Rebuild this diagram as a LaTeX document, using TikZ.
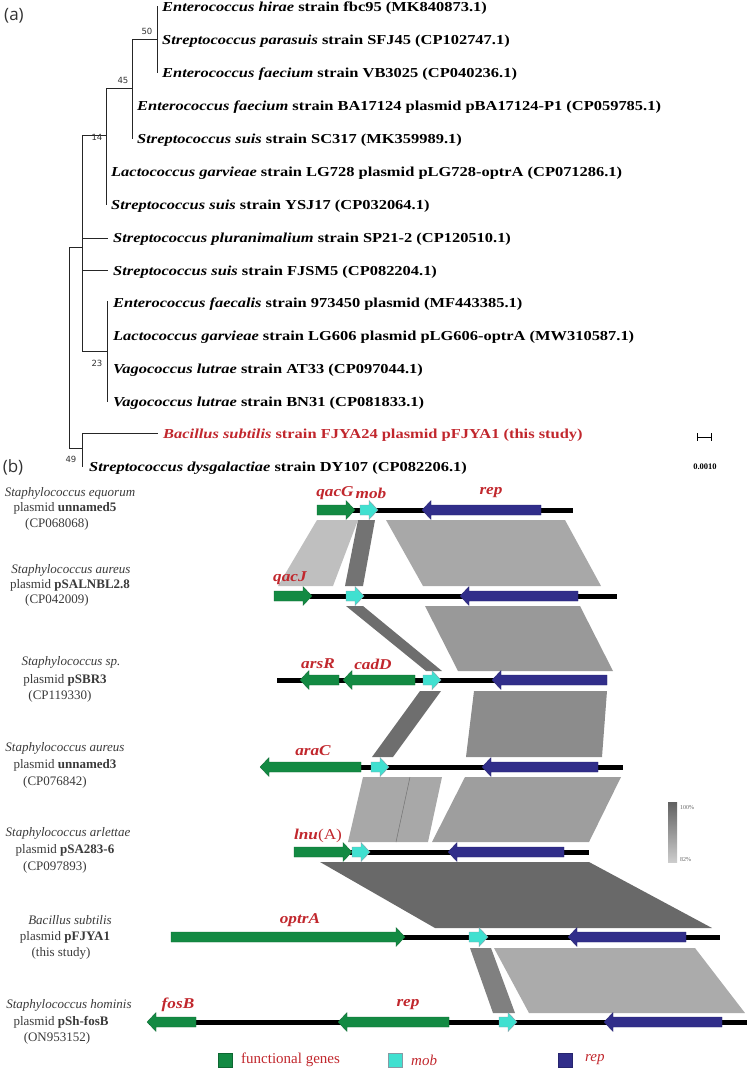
\documentclass[tikz,border=0pt]{standalone}
\usepackage{fontspec}
\usepackage{graphicx}
\setmainfont{Liberation Serif}
\newfontfamily\numfont{DejaVu Sans}
\newfontfamily\panfont{Open Sans}
\definecolor{gGreen}{HTML}{138A43}
\definecolor{gCyan}{HTML}{40E0D0}
\definecolor{gNavy}{HTML}{312E8A}
\definecolor{myRed}{HTML}{C1272D}
\definecolor{labGray}{HTML}{3A3A3A}
\newcommand\tlab[1]{\scalebox{1.2}[1]{\fontsize{13.7}{16}\selectfont\bfseries #1}}
\newcommand\glab[1]{\scalebox{1.15}[1]{\fontsize{15}{17}\selectfont\bfseries\itshape #1}}
\newcommand\geneR[4]{\fill[#4] (#1,#3-5) -- (#2-9,#3-5) -- (#2-9,#3-9.5) -- (#2,#3) -- (#2-9,#3+9.5) -- (#2-9,#3+5) -- (#1,#3+5) -- cycle;}
\newcommand\geneL[4]{\fill[#4] (#2,#3-5) -- (#1+9,#3-5) -- (#1+9,#3-9.5) -- (#1,#3) -- (#1+9,#3+9.5) -- (#1+9,#3+5) -- (#2,#3+5) -- cycle;}
\tikzset{
  tree/.style={draw=black!85, line width=0.9pt},
  tiplab/.style={anchor=west, inner sep=0pt},
  boot/.style={inner sep=0pt, font=\numfont\fontsize{8.5}{10}\selectfont, text=black!80},
  fgene/.style={fill=gGreen, draw=gGreen!75!black, line width=0.3pt},
  mgene/.style={fill=gCyan, draw=gray!80!cyan, line width=0.4pt},
  rgene/.style={fill=gNavy, draw=gNavy!80!black, line width=0.3pt},
  backbone/.style={draw=black, line width=5pt},
  genelab/.style={inner sep=0pt, text=myRed},
  plab/.style={inner sep=0pt, text=labGray, font=\fontsize{13}{15}\selectfont},
  legtext/.style={anchor=west, inner sep=0pt, text=myRed, font=\fontsize{15}{17}\selectfont},
}
\begin{document}
\begin{tikzpicture}[x=1pt,y=-1pt]
\useasboundingbox (0,0) rectangle (750,1082);
% ---------------- panel (a) -----------------
\node[inner sep=0pt, font=\panfont\fontsize{17}{20}\selectfont, text=black!80] (pa) at (14,16) {(a)};
% tree branches
\coordinate (nA) at (157,39);
\coordinate (nB) at (132,88);
\coordinate (nC) at (106,135);
\coordinate (nD) at (82,247);
\coordinate (nE) at (107,351);
\coordinate (nF) at (82,448);
\coordinate (root) at (69,247);
\draw[tree] (157,6) -- (157,73);
\draw[tree] (132,39) -- (nA);
\draw[tree] (132,39) -- (132,139);
\draw[tree] (106,88) -- (nB);
\draw[tree] (106,88) -- (106,205);
\draw[tree] (82,135) -- (nC);
\draw[tree] (82,135) -- (82,351);
\draw[tree] (82,238) -- (108,238);
\draw[tree] (82,270) -- (108,270);
\draw[tree] (82,351) -- (nE);
\draw[tree] (107,301) -- (107,402);
\draw[tree] (root) -- (nD);
\draw[tree] (root) -- (69,448) -- (nF);
\draw[tree] (82,433) -- (82,467);
\draw[tree] (82,433) -- (158,433);
% bootstrap values
\node[boot] (b50) at (147,31) {50};
\node[boot] (b45) at (123,80) {45};
\node[boot] (b14) at (97,137) {14};
\node[boot] (b23) at (97,363) {23};
\node[boot] (b49) at (71,459) {49};
% tip labels
\node[tiplab] (t1) at (162,8) {\tlab{\textit{Enterococcus hirae} strain fbc95 (MK840873.1)}};
\node[tiplab] (t2) at (162,41) {\tlab{\textit{Streptococcus parasuis} strain SFJ45 (CP102747.1)}};
\node[tiplab] (t3) at (162,74) {\tlab{\textit{Enterococcus faecium} strain VB3025 (CP040236.1)}};
\node[tiplab] (t4) at (137,107) {\tlab{\textit{Enterococcus faecium} strain BA17124 plasmid pBA17124-P1 (CP059785.1)}};
\node[tiplab] (t5) at (137,140) {\tlab{\textit{Streptococcus suis} strain SC317 (MK359989.1)}};
\node[tiplab] (t6) at (111,173) {\tlab{\textit{Lactococcus garvieae} strain LG728 plasmid pLG728-optrA (CP071286.1)}};
\node[tiplab] (t7) at (111,206) {\tlab{\textit{Streptococcus suis} strain YSJ17 (CP032064.1)}};
\node[tiplab] (t8) at (113,239) {\tlab{\textit{Streptococcus pluranimalium} strain SP21-2 (CP120510.1)}};
\node[tiplab] (t9) at (113,272) {\tlab{\textit{Streptococcus suis} strain FJSM5 (CP082204.1)}};
\node[tiplab] (t10) at (113,304) {\tlab{\textit{Enterococcus faecalis} strain 973450 plasmid (MF443385.1)}};
\node[tiplab] (t11) at (113,337) {\tlab{\textit{Lactococcus garvieae} strain LG606 plasmid pLG606-optrA (MW310587.1)}};
\node[tiplab] (t12) at (113,370) {\tlab{\textit{Vagococcus lutrae} strain AT33 (CP097044.1)}};
\node[tiplab] (t13) at (113,403) {\tlab{\textit{Vagococcus lutrae} strain BN31 (CP081833.1)}};
\node[tiplab, text=myRed] (t14) at (163,435) {\tlab{\textit{Bacillus subtilis} strain FJYA24 plasmid pFJYA1 (this study)}};
\node[tiplab] (t15) at (89,468) {\tlab{\textit{Streptococcus dysgalactiae} strain DY107 (CP082206.1)}};
% scale bar
\coordinate (sb1) at (697,437);
\coordinate (sb2) at (711,437);
\draw[line width=0.9pt] (sb1) -- (sb2);
\draw[line width=0.9pt] (697,433) -- (697,441);
\draw[line width=0.9pt] (711,433) -- (711,441);
\node[inner sep=0pt, font=\bfseries\fontsize{8.5}{10}\selectfont] (sbl) at (705,467) {0.0010};
% ---------------- panel (b) -----------------
\node[inner sep=0pt, font=\panfont\fontsize{17}{20}\selectfont, text=black!80] (pb) at (13,467) {(b)};
% similarity bands
\fill[black!25] (317,520) -- (358,520) -- (333,586) -- (278,586) -- cycle;
\fill[black!55] (358,520) -- (375,520) -- (363,586) -- (345,586) -- cycle;
\fill[black!34] (386,520) -- (565,520) -- (601,586) -- (423,586) -- cycle;
\fill[black!57] (346,606) -- (363,606) -- (442,671) -- (426,671) -- cycle;
\fill[black!40] (425,606) -- (580,606) -- (613,671) -- (458,671) -- cycle;
\fill[black!57] (420,691) -- (441,691) -- (393,757) -- (372,757) -- cycle;
\fill[black!45] (474,691) -- (607,691) -- (602,757) -- (466,757) -- cycle;
\fill[black!34] (363,777) -- (442,777) -- (428,842) -- (348,842) -- cycle;
\draw[black!55, line width=0.5pt] (410,777) -- (396,842);
\fill[black!38] (465,777) -- (621,777) -- (589,842) -- (432,842) -- cycle;
\fill[black!59] (320,862) -- (589,862) -- (712,928) -- (435,928) -- cycle;
\fill[black!50] (470,948) -- (491,948) -- (515,1013) -- (493,1013) -- cycle;
\fill[black!33] (494,948) -- (695,948) -- (745,1013) -- (529,1013) -- cycle;
% backbones
\draw[backbone] (350,510) -- (573,510);
\draw[backbone] (310,596) -- (617,596);
\draw[backbone] (277,680) -- (607,680);
\draw[backbone] (358,767) -- (623,767);
\draw[backbone] (350,852) -- (589,852);
\draw[backbone] (403,937) -- (720,937);
\draw[backbone] (149,1022) -- (747,1022);
% genes row 1
\geneR{317}{355}{510}{fgene}
\geneR{360}{378}{510}{mgene}
\geneL{422}{541}{510}{rgene}
% row 2
\geneR{274}{312}{596}{fgene}
\geneR{346}{364}{596}{mgene}
\geneL{460}{578}{596}{rgene}
% row 3
\geneL{300}{339}{680}{fgene}
\geneL{343}{415}{680}{fgene}
\geneR{423}{441}{680}{mgene}
\geneL{492}{607}{680}{rgene}
% row 4
\geneL{260}{361}{767}{fgene}
\geneR{371}{389}{767}{mgene}
\geneL{482}{598}{767}{rgene}
% row 5
\geneR{294}{352}{852}{fgene}
\geneR{352}{370}{852}{mgene}
\geneL{448}{564}{852}{rgene}
% row 6
\geneR{171}{405}{937}{fgene}
\geneR{469}{488}{937}{mgene}
\geneL{568}{686}{937}{rgene}
% row 7
\geneL{147}{196}{1022}{fgene}
\geneL{338}{449}{1022}{fgene}
\geneR{499}{517}{1022}{mgene}
\geneL{604}{722}{1022}{rgene}
% gene labels
\node[genelab] (lqacG) at (335,493) {\glab{qacG}};
\node[genelab] (lmob) at (371,493) {\glab{mob}};
\node[genelab] (lrep1) at (491,493) {\glab{rep}};
\node[genelab] (lqacJ) at (290,578) {\glab{qacJ}};
\node[genelab] (larsR) at (318,664) {\glab{arsR}};
\node[genelab] (lcadD) at (373,664) {\glab{cadD}};
\node[genelab] (laraC) at (313,751) {\glab{araC}};
\node[genelab] (llnu) at (318,836) {\scalebox{1.15}[1]{\fontsize{15}{17}\selectfont\textbf{\textit{lnu}}(A)}};
\node[genelab] (loptrA) at (300,920) {\glab{optrA}};
\node[genelab] (lfosB) at (178,1005) {\glab{fosB}};
\node[genelab] (lrep7) at (408,1005) {\glab{rep}};
% plasmid labels
\node[plab] (p1a) at (70,493) {\textit{Staphylococcus equorum}};
\node[plab] (p1b) at (65,508) {plasmid \textbf{unnamed5}};
\node[plab] (p1c) at (57,524) {(CP068068)};
\node[plab] (p2a) at (71,570) {\textit{Staphylococcus aureus}};
\node[plab] (p2b) at (70,585) {plasmid \textbf{pSALNBL2.8}};
\node[plab] (p2c) at (57,600) {(CP042009)};
\node[plab] (p3a) at (71,662) {\textit{Staphylococcus sp.}};
\node[plab] (p3b) at (65,680) {plasmid \textbf{pSBR3}};
\node[plab] (p3c) at (60,696) {(CP119330)};
\node[plab] (p4a) at (65,748) {\textit{Staphylococcus aureus}};
\node[plab] (p4b) at (65,765) {plasmid \textbf{unnamed3}};
\node[plab] (p4c) at (55,782) {(CP076842)};
\node[plab] (p5a) at (68,833) {\textit{Staphylococcus arlettae}};
\node[plab] (p5b) at (65,850) {plasmid \textbf{pSA283-6}};
\node[plab] (p5c) at (55,867) {(CP097893)};
\node[plab] (p6a) at (70,920) {\textit{Bacillus subtilis}};
\node[plab] (p6b) at (65,937) {plasmid \textbf{pFJYA1}};
\node[plab] (p6c) at (61,953) {(this study)};
\node[plab] (p7a) at (69,1005) {\textit{Staphylococcus hominis}};
\node[plab] (p7b) at (61,1022) {plasmid \textbf{pSh-fosB}};
\node[plab] (p7c) at (57,1038) {(ON953152)};
% identity scale
\shade[top color=black!62, bottom color=black!20] (668,802) rectangle (677,862);
\node[anchor=west, inner sep=0pt, text=black!60, font=\fontsize{6}{7}\selectfont] (pc100) at (680,808) {100\%};
\node[anchor=west, inner sep=0pt, text=black!60, font=\fontsize{6}{7}\selectfont] (pc82) at (680,860) {82\%};
% legend
\filldraw[fill=gGreen, draw=gGreen!75!black, line width=0.4pt] (218,1053) rectangle (232,1067);
\node[legtext] (lg1) at (241,1060) {functional genes};
\filldraw[fill=gCyan, draw=gray!80!cyan, line width=0.4pt] (388,1053) rectangle (402,1067);
\node[legtext] (lg2) at (411,1060) {\textit{mob}};
\filldraw[fill=gNavy, draw=gNavy!80!black, line width=0.4pt] (558,1053) rectangle (572,1067);
\node[legtext] (lg3) at (585,1060) {\textit{rep}};
\end{tikzpicture}
\end{document}
